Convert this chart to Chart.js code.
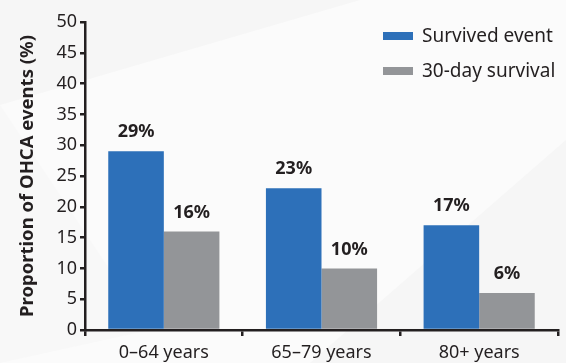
<!DOCTYPE html>
<html>
<head>
<meta charset="utf-8">
<script src="https://cdn.jsdelivr.net/npm/chart.js@4.4.1/dist/chart.umd.min.js"></script>
<style>
  html, body { margin: 0; padding: 0; background: #fbfbfb; }
  #wrap { position: relative; width: 566px; height: 363px; }
</style>
</head>
<body>
<div id="wrap"><canvas id="c" width="566" height="363"></canvas></div>
<script>
const categories = ['0\u201364 years', '65\u201379 years', '80+ years'];
const survivedEvent = [29, 23, 17];
const thirtyDaySurvival = [16, 10, 6];
const yTicks = [0, 5, 10, 15, 20, 25, 30, 35, 40, 45, 50];

const FONT = '"Noto Sans", sans-serif';
const INK = '#231f20';

// faint diagonal panels behind the plot
const backdrop = {
  id: 'backdrop',
  beforeDraw(chart) {
    const { ctx, width, height } = chart;
    ctx.save();
    ctx.fillStyle = '#fbfbfb';
    ctx.fillRect(0, 0, width, height);
    ctx.fillStyle = '#f6f6f6';
    ctx.beginPath();
    ctx.moveTo(0, 0); ctx.lineTo(360, 0); ctx.lineTo(0, 105); ctx.closePath();
    ctx.fill();
    ctx.beginPath();
    ctx.moveTo(566, 140); ctx.lineTo(566, 363); ctx.lineTo(310, 363); ctx.closePath();
    ctx.fill();
    ctx.fillStyle = '#f8f8f8';
    ctx.beginPath();
    ctx.moveTo(0, 105); ctx.lineTo(150, 330); ctx.lineTo(0, 363); ctx.closePath();
    ctx.fill();
    ctx.restore();
  }
};

// percentage labels above each bar
const valueLabels = {
  id: 'valueLabels',
  afterDatasetsDraw(chart) {
    const { ctx } = chart;
    ctx.save();
    ctx.font = 'bold 18px ' + FONT;
    ctx.fillStyle = INK;
    ctx.textAlign = 'center';
    ctx.textBaseline = 'middle';
    chart.data.datasets.forEach((ds, i) => {
      chart.getDatasetMeta(i).data.forEach((bar, j) => {
        ctx.fillText(ds.data[j] + '%', bar.x, bar.y - 19);
      });
    });
    ctx.restore();
  }
};

// legend stacked in the upper right corner
const cornerLegend = {
  id: 'cornerLegend',
  afterDraw(chart) {
    const { ctx } = chart;
    ctx.save();
    ctx.font = '19px ' + FONT;
    ctx.textBaseline = 'middle';
    chart.data.datasets.forEach((ds, i) => {
      const y = 36 + i * 35;
      ctx.fillStyle = ds.backgroundColor;
      ctx.fillRect(383, y - 4, 30, 8);
      ctx.fillStyle = INK;
      ctx.fillText(ds.label, 422, y + 1);
    });
    ctx.restore();
  }
};

new Chart(document.getElementById('c'), {
  type: 'bar',
  data: {
    labels: categories,
    datasets: [
      { label: 'Survived event', data: survivedEvent, backgroundColor: '#2d70b9' },
      { label: '30-day survival', data: thirtyDaySurvival, backgroundColor: '#939598' }
    ]
  },
  options: {
    responsive: false,
    animation: false,
    layout: { padding: { top: 22, right: 8, left: 0, bottom: 0 } },
    datasets: { bar: { categoryPercentage: 0.705, barPercentage: 1 } },
    plugins: { legend: { display: false }, tooltip: { enabled: false } },
    scales: {
      x: {
        grid: { offset: true, drawOnChartArea: false, drawTicks: true, tickLength: 6, color: INK, lineWidth: 2.5 },
        border: { display: true, color: INK, width: 2.5 },
        ticks: { color: INK, font: { family: FONT, size: 18 }, padding: 6 },
        afterFit(s) { s.height = 33; }
      },
      y: {
        min: 0, max: 50,
        afterBuildTicks(s) { s.ticks = yTicks.map(v => ({ value: v })); },
        grid: { drawOnChartArea: false, drawTicks: true, tickLength: 5, color: INK, lineWidth: 2.5 },
        border: { display: true, color: INK, width: 2.5 },
        ticks: { color: INK, font: { family: FONT, size: 18 }, padding: 3 },
        title: { display: true, text: 'Proportion of OHCA events (%)', color: INK, font: { family: FONT, size: 18.5, weight: 'bold' }, padding: { top: 17, bottom: 4 } },
        afterFit(s) { s.width = 85; }
      }
    }
  },
  plugins: [backdrop, valueLabels, cornerLegend]
});
</script>
</body>
</html>
